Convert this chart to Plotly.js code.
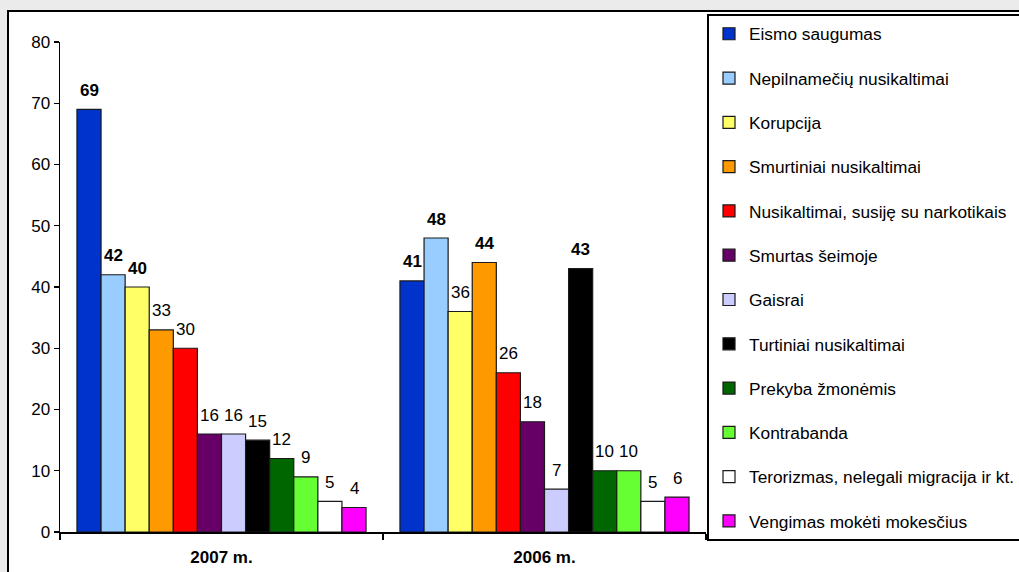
<!DOCTYPE html>
<html><head><meta charset="utf-8">
<script src="https://cdn.plot.ly/plotly-3.0.1.min.js"></script>
<style>
html,body{margin:0;padding:0;background:#ebebeb;width:1019px;height:572px;overflow:hidden;}
#frame{position:absolute;left:7px;top:10px;width:1100px;height:700px;border:2px solid #000;background:#fff;}
#chart{position:absolute;left:0;top:0;width:1010px;height:560px;}
</style></head><body>
<div id="frame"><div id="chart"></div></div>
<script>
const categories = ['2007 m.', '2006 m.'];
const seriesNames = [
  'Eismo saugumas',
  'Nepilnamečių nusikaltimai',
  'Korupcija',
  'Smurtiniai nusikaltimai',
  'Nusikaltimai, susiję su narkotikais',
  'Smurtas šeimoje',
  'Gaisrai',
  'Turtiniai nusikaltimai',
  'Prekyba žmonėmis',
  'Kontrabanda',
  'Terorizmas, nelegali migracija ir kt.',
  'Vengimas mokėti mokesčius'
];
const values2007 = [69, 42, 40, 33, 30, 16, 16, 15, 12, 9, 5, 4];
const values2006 = [41, 48, 36, 44, 26, 18, 7, 43, 10, 10, 5, 5.7];
const labels2007 = ['69', '42', '40', '33', '30', '16', '16', '15', '12', '9', '5', '4'];
const labels2006 = ['41', '48', '36', '44', '26', '18', '7', '43', '10', '10', '5', '6'];
const bold2007 = [true, true, true, false, false, false, false, false, false, false, false, false];
const bold2006 = [true, true, false, true, false, false, false, true, false, false, false, false];
const colors = ['#0033CC', '#99CCFF', '#FFFF66', '#FF9900', '#FF0000', '#660066',
                '#CCCCFF', '#000000', '#006600', '#66FF33', '#FFFFFF', '#FF00FF'];

const FONT = 'Arial, "Liberation Sans", sans-serif';
const bargap = 0.105;
const n = seriesNames.length;

const traces = seriesNames.map((name, i) => ({
  type: 'bar',
  name: name,
  x: categories,
  y: [values2007[i], values2006[i]],
  legendgroup: 'g' + i,
  marker: {color: colors[i], line: {color: '#1a1a1a', width: 1.2}},
  hoverinfo: 'skip'
}));

const annotations = [];
const w = (1 - bargap) / n;
const yearVals = [values2007, values2006];
const yearLabels = [labels2007, labels2006];
const yearBold = [bold2007, bold2006];
for (let c = 0; c < categories.length; c++) {
  for (let i = 0; i < n; i++) {
    const t = yearLabels[c][i];
    annotations.push({
      x: c + (i - (n - 1) / 2) * w,
      y: yearVals[c][i],
      xref: 'x', yref: 'y',
      text: yearBold[c][i] ? '<b>' + t + '</b>' : t,
      showarrow: false,
      yanchor: 'middle',
      yshift: 19,
      font: {family: FONT, size: 17, color: '#000'}
    });
  }
}

const layout = {
  width: 1010, height: 560,
  margin: {l: 51, r: 313, t: 30, b: 40, pad: 0, autoexpand: false},
  paper_bgcolor: '#ffffff',
  plot_bgcolor: '#ffffff',
  font: {family: FONT, size: 17, color: '#000'},
  barmode: 'group',
  bargap: bargap,
  bargroupgap: 0,
  showlegend: true,
  xaxis: {
    type: 'category',
    range: [-0.5, 1.5],
    showline: true, linecolor: '#000', linewidth: 1.5,
    ticks: 'outside', tickson: 'boundaries', ticklen: 6, tickcolor: '#000', tickwidth: 1.2,
    ticklabelstandoff: 9,
    showgrid: false, zeroline: false,
    tickfont: {family: FONT, size: 17, color: '#000', weight: 'bold'}
  },
  yaxis: {
    range: [0, 80],
    dtick: 10, tick0: 0,
    showline: true, linecolor: '#000', linewidth: 1.5,
    ticks: 'outside', ticklen: 5, tickcolor: '#000', tickwidth: 1.2,
    showgrid: false, zeroline: false,
    tickfont: {family: FONT, size: 17, color: '#000'}
  },
  legend: {
    xref: 'container', yref: 'container',
    x: 698 / 1010, xanchor: 'left',
    y: 1 - 2 / 560, yanchor: 'top',
    maxheight: 548,
    traceorder: 'grouped',
    tracegroupgap: 18.8,
    bordercolor: '#000', borderwidth: 2,
    bgcolor: '#ffffff',
    font: {family: FONT, size: 17.3, color: '#000'}
  },
  annotations: annotations
};

Plotly.newPlot('chart', traces, layout, {displayModeBar: false, staticPlot: true});
</script>
</body></html>
